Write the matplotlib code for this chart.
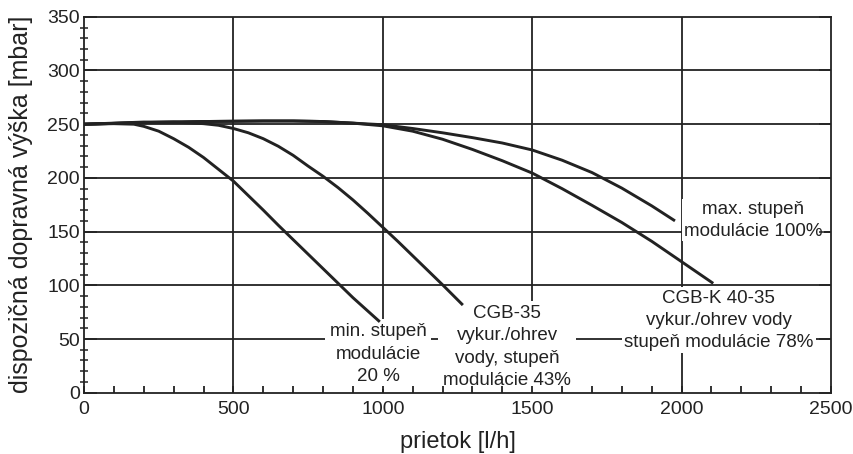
import matplotlib
matplotlib.use("Agg")
import matplotlib.pyplot as plt
from matplotlib.ticker import MultipleLocator

plt.rcParams['font.family'] = ['Liberation Sans', 'DejaVu Sans']

# Pump curves: flow [l/h] vs available head [mbar]
flow_20 = [0, 100, 167, 200, 250, 300, 350, 400, 450, 500, 550, 600, 650, 700, 750, 800, 850, 900, 950, 990]
head_20 = [250, 250.5, 250, 248, 243.5, 236.5, 228.5, 219, 208, 197, 183.5, 170, 156, 142.5, 129, 115.5, 102, 88.5, 76, 66]

flow_43 = [0, 100, 200, 300, 400, 450, 500, 550, 600, 650, 700, 750, 800, 850, 900, 950, 1000,
           1050, 1100, 1150, 1200, 1268]
head_43 = [250, 251, 252, 252, 250.5, 249, 246, 242, 236.5, 229.5, 221, 211, 201.5, 191, 179.5, 167, 154,
           141, 127.5, 114, 100.5, 81.6]

flow_78 = [0, 200, 400, 600, 700, 800, 900, 1000, 1100, 1200, 1300, 1400, 1500, 1600, 1700, 1800, 1900, 2000, 2106]
head_78 = [250, 251.5, 252.5, 253, 253, 252.5, 251, 248.5, 243.5, 236, 226.5, 216, 204.5, 190, 174.5, 158.5, 141, 122, 101.8]

flow_100 = [0, 200, 400, 600, 700, 800, 900, 1000, 1100, 1200, 1300, 1400, 1500, 1600, 1700, 1800, 1900, 1978]
head_100 = [250, 251.5, 252.5, 253, 253, 252.5, 251, 249.5, 246, 242, 237.5, 232.5, 226, 216.5, 205, 190.5, 174, 160]

curve_labels = [
    "min. stupeň\nmodulácie\n20 %",
    "CGB-35\nvykur./ohrev\nvody, stupeň\nmodulácie 43%",
    "max. stupeň\nmodulácie 100%",
    "CGB-K 40-35\nvykur./ohrev vody\nstupeň modulácie 78%",
]
label_pos = [(985, 36), (1416, 42.5), (2239, 160.6), (2125, 67.5)]
label_pads = [0.25, 0.25, 0.08, 0.12]

ink = "#222222"

fig = plt.figure(figsize=(8.54, 4.54), dpi=100)
ax = fig.add_axes([0.0984, 0.135, 0.8746, 0.828])

for fx, hy in [(flow_20, head_20), (flow_43, head_43), (flow_78, head_78), (flow_100, head_100)]:
    ax.plot(fx, hy, color=ink, lw=2.1, solid_capstyle="butt", solid_joinstyle="round", zorder=4)

ax.set_xlim(0, 2500)
ax.set_ylim(0, 350)
ax.xaxis.set_major_locator(MultipleLocator(500))
ax.xaxis.set_minor_locator(MultipleLocator(100))
ax.yaxis.set_major_locator(MultipleLocator(50))
ax.yaxis.set_minor_locator(MultipleLocator(10))

# grid drawn as plain lines beneath the label boxes, ticks stay on top
for gx in ax.get_xticks():
    if 0 < gx < 2500:
        ax.axvline(gx, color=ink, lw=1.3, zorder=1)
for gy in ax.get_yticks():
    if 0 < gy < 350:
        ax.axhline(gy, color=ink, lw=1.3, zorder=1)
ax.set_axisbelow(False)

ax.tick_params(axis="x", which="both", direction="in", length=5, width=1.3,
               colors=ink, labelsize=14, pad=6)
ax.tick_params(axis="y", which="both", direction="inout", length=6, width=1.1,
               colors=ink, labelsize=14, pad=3)
ax.tick_params(axis="y", which="major", right=True, direction="in", length=9)
for sp in ax.spines.values():
    sp.set_color(ink)
    sp.set_linewidth(1.3)

ax.set_xlabel("prietok [l/h]", fontsize=17, color=ink, labelpad=9)
ax.set_ylabel("dispozičná dopravná výška [mbar]", fontsize=18, color=ink, labelpad=10)

for txt, (tx, ty), pad in zip(curve_labels, label_pos, label_pads):
    ax.text(tx, ty, txt, ha="center", va="center", fontsize=13.5, color=ink,
            linespacing=1.4, zorder=2,
            bbox=dict(boxstyle=f"square,pad={pad}", fc="white", ec="none"))

fig.savefig("out.png", dpi=100)
